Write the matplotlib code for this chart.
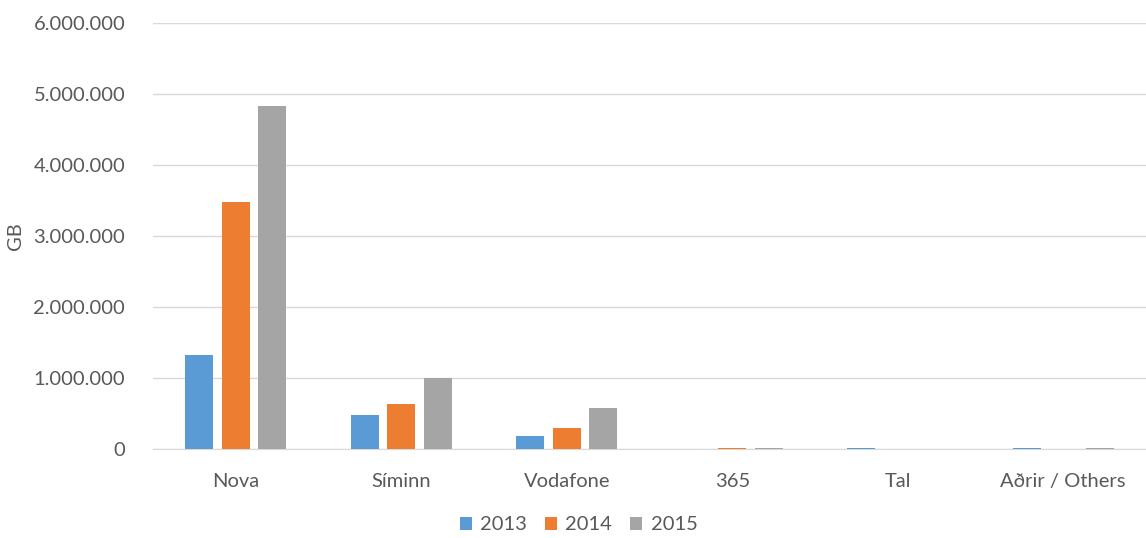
import matplotlib
matplotlib.use("Agg")
import matplotlib.pyplot as plt
import numpy as np
from matplotlib.ticker import FuncFormatter

categories = ["Nova", "Síminn", "Vodafone", "365", "Tal", "Aðrir / Others"]
years = ["2013", "2014", "2015"]
v2013 = [1325000, 480000, 185000, 2000, 15000, 12000]
v2014 = [3480000, 635000, 290000, 14000, 0, 0]
v2015 = [4830000, 1005000, 580000, 16000, 0, 14000]
colors = ["#5B9BD5", "#ED7D31", "#A5A5A5"]

plt.rcParams['font.family'] = ['Lato', 'DejaVu Sans']
W, H = 1146, 538
fig = plt.figure(figsize=(W/100, H/100), dpi=100)
ax = fig.add_axes([153/W, 1-449/H, (1146-153)/W, (449-23)/H])

x = np.arange(len(categories))
bw = 0.17
step = 0.22
for i, (vals, yr) in enumerate(zip([v2013, v2014, v2015], years)):
    ax.bar(x + (i-1)*step, vals, width=bw, color=colors[i], label=yr, zorder=3)

fs = 14.5
ax.set_xlim(-0.5, len(categories)-0.5)
ax.set_ylim(0, 6000000)
ax.set_yticks(np.arange(0, 6000001, 1000000))
ax.yaxis.set_major_formatter(FuncFormatter(lambda v, p: f"{int(v):,}".replace(",", ".")))
ax.grid(axis='y', color='#D9D9D9', linewidth=1, zorder=0)
for s in ['top', 'right', 'left']:
    ax.spines[s].set_visible(False)
ax.spines['bottom'].set_color('#D9D9D9')
ax.tick_params(axis='both', length=0, colors='#595959', labelsize=fs)
ax.tick_params(axis='y', pad=20)
ax.tick_params(axis='x', pad=17)
ax.set_xticks(x)
ax.set_xticklabels(categories)
ax.set_ylabel("GB", color='#595959', fontsize=fs, labelpad=7)

fig.legend(loc='center', bbox_to_anchor=(0.505, 1-525/H), ncol=3, frameon=False,
           fontsize=fs, labelcolor='#595959', handlelength=0.6, handleheight=0.6,
           columnspacing=0.9, handletextpad=0.4)

fig.savefig("out.png", dpi=100)
